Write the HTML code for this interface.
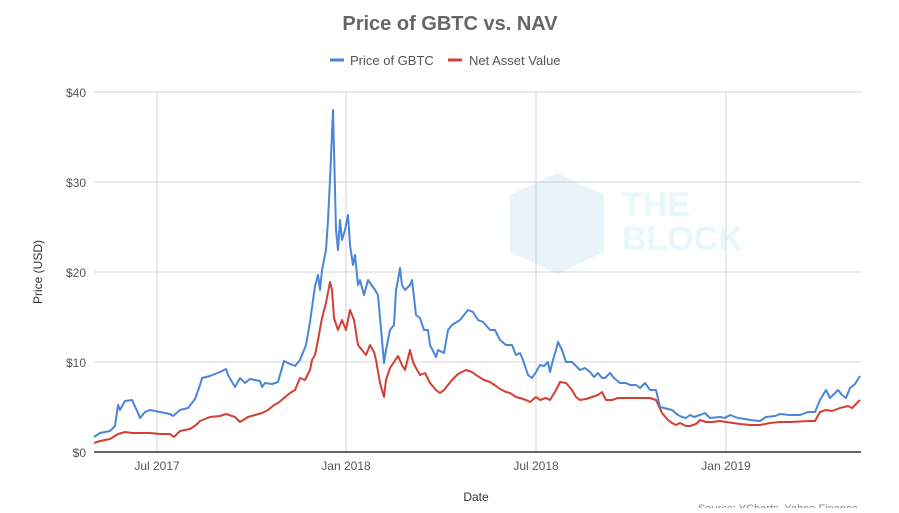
<!DOCTYPE html>
<html><head><style>
body{margin:0;background:#fff;width:899px;height:508px;overflow:hidden;font-family:"Liberation Sans",sans-serif;}
</style></head><body>
<svg width="899" height="508" xmlns="http://www.w3.org/2000/svg" font-family="Liberation Sans, sans-serif">
<text x="450" y="30" text-anchor="middle" font-size="20" font-weight="bold" fill="#666">Price of GBTC vs. NAV</text>
<line x1="330" y1="60" x2="344" y2="60" stroke="#4a86d8" stroke-width="3"/>
<text x="350" y="65" font-size="13" fill="#555">Price of GBTC</text>
<line x1="448" y1="60" x2="462" y2="60" stroke="#d33f33" stroke-width="3"/>
<text x="469" y="65" font-size="13" fill="#555">Net Asset Value</text>
<g stroke="#d6d6d6" stroke-width="1">
<line x1="94" y1="92" x2="861" y2="92"/><line x1="94" y1="182" x2="861" y2="182"/><line x1="94" y1="272" x2="861" y2="272"/><line x1="94" y1="362" x2="861" y2="362"/>
<line x1="157" y1="92" x2="157" y2="452"/><line x1="346" y1="92" x2="346" y2="452"/><line x1="536" y1="92" x2="536" y2="452"/><line x1="726" y1="92" x2="726" y2="452"/>
</g>
<g opacity="0.12">
<polygon points="510,195 557,173 604,195 604,252 557,274 510,252" fill="#4aa0d8"/>
<text x="622" y="216" font-size="34" font-weight="bold" fill="#4ac0d8">THE</text>
<text x="622" y="250" font-size="34" font-weight="bold" fill="#4ac0d8">BLOCK</text>
</g>
<line x1="94" y1="452" x2="861" y2="452" stroke="#333" stroke-width="1.5"/>
<g font-size="12" fill="#555">
<text x="86" y="97" text-anchor="end">$40</text><text x="86" y="187" text-anchor="end">$30</text><text x="86" y="277" text-anchor="end">$20</text><text x="86" y="367" text-anchor="end">$10</text><text x="86" y="457" text-anchor="end">$0</text>
<text x="157" y="470" text-anchor="middle">Jul 2017</text><text x="346" y="470" text-anchor="middle">Jan 2018</text><text x="536" y="470" text-anchor="middle">Jul 2018</text><text x="726" y="470" text-anchor="middle">Jan 2019</text>
<text x="476" y="501" text-anchor="middle" fill="#333">Date</text>
<text x="42" y="272" text-anchor="middle" fill="#333" transform="rotate(-90 42 272)">Price (USD)</text>
<text x="698" y="512" fill="#888" font-size="11">Source: YCharts, Yahoo Finance</text>
</g>
<polyline fill="none" stroke="#d33f33" stroke-width="2" stroke-linejoin="round" points="94,443 100,441 110,439 118,434 125,432 132,433 140,433 150,433 160,434 170,434 174,437 180,431 190,429 196,425 200,421 210,417 220,416 226,414 235,417 240,422 248,417 255,415 262,413 268,410 274,405 278,403 284,398 290,393 295,390 300,378 305,380 310,370 312,360 315,355 318,340 322,318 326,303 330,282 332,290 334,318 338,330 342,320 346,330 350,310 354,320 358,345 362,350 366,355 370,345 374,352 376,360 380,383 384,397 386,380 390,368 394,362 398,356 402,365 405,370 410,350 413,362 416,368 420,375 425,373 430,383 436,390 440,393 444,390 448,385 452,380 458,374 466,370 472,372 476,375 484,380 490,382 496,386 500,389 506,392 510,393 516,397 520,398 526,400 530,402 536,397 540,400 546,398 550,400 556,390 560,382 566,383 572,390 576,397 580,400 586,399 592,397 598,395 602,392 606,400 612,400 618,398 624,398 630,398 640,398 650,398 656,400 662,413 668,420 672,423 676,425 680,423 686,426 690,426 696,424 700,420 706,422 712,422 720,421 726,422 740,424 750,425 760,425 770,423 780,422 790,422 810,421 815,421 820,412 826,410 832,411 840,408 848,406 852,408 856,404 860,400"/>
<polyline fill="none" stroke="#4a86d8" stroke-width="2" stroke-linejoin="round" points="94,437 100,433 110,431 115,426 118,405 120,410 125,401 132,400 138,413 140,418 145,412 150,410 160,412 170,414 173,416 180,410 188,408 195,399 200,385 202,378 210,376 220,372 226,369 228,375 235,387 240,378 245,383 250,379 260,381 262,387 265,383 272,384 278,382 284,361 290,364 295,366 300,360 306,345 310,322 315,286 318,275 320,290 322,270 326,250 328,220 330,180 333,110 334,150 336,230 338,250 340,220 342,240 345,230 348,215 350,245 353,265 355,255 358,285 360,280 364,295 368,280 375,290 378,295 382,340 384,363 386,350 390,330 394,325 396,290 398,280 400,268 402,285 405,290 410,285 412,280 416,315 420,318 424,330 428,330 430,345 436,357 438,350 444,353 448,330 452,325 460,320 468,310 473,312 478,320 483,322 490,330 495,330 500,340 506,345 512,345 516,355 520,353 523,360 528,375 532,378 536,372 540,365 544,366 548,362 550,372 553,360 556,350 558,342 562,350 566,362 572,362 580,370 585,368 590,372 594,377 598,373 602,378 605,378 610,373 614,378 620,383 626,383 630,385 636,385 640,388 645,383 650,390 656,390 660,407 664,408 672,410 678,415 682,417 686,418 690,415 694,417 700,415 705,413 710,418 720,417 725,418 730,415 738,418 745,419 750,420 760,421 766,417 775,416 780,414 790,415 800,415 808,412 815,412 820,400 826,390 830,398 838,390 842,395 846,398 850,388 855,384 860,376"/>
</svg>
</body></html>
